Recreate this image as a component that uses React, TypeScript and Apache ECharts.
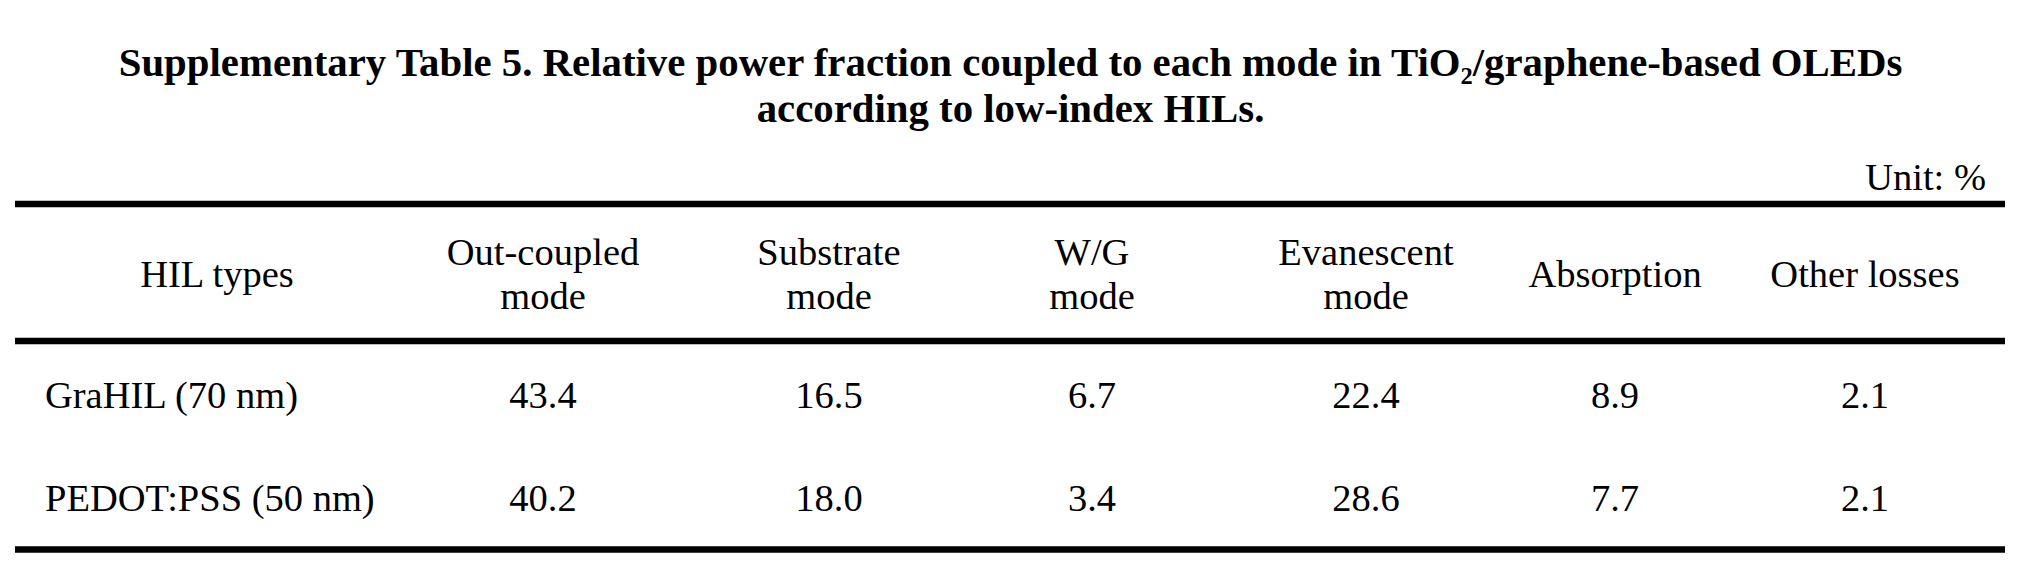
import React, { useEffect, useRef } from "react";
import * as echarts from "echarts";

const titleLines = [
  "Supplementary Table 5. Relative power fraction coupled to each mode in TiO₂/graphene-based OLEDs",
  "according to low-index HILs.",
];
const unitLabel = "Unit: %";
const headers: string[][] = [
  ["HIL types"],
  ["Out-coupled", "mode"],
  ["Substrate", "mode"],
  ["W/G", "mode"],
  ["Evanescent", "mode"],
  ["Absorption"],
  ["Other losses"],
];
const rowLabels = ["GraHIL (70 nm)", "PEDOT:PSS (50 nm)"];
const outCoupled = ["43.4", "40.2"];
const substrate = ["16.5", "18.0"];
const wgMode = ["6.7", "3.4"];
const evanescent = ["22.4", "28.6"];
const absorption = ["8.9", "7.7"];
const otherLosses = ["2.1", "2.1"];

// layout (positions only)
const W = 2021;
const H = 584;
const FONT = '"Liberation Serif", "Times New Roman", Times, serif';
const BODY = 38.5;
const TITLE = 40.8;
const colX = [217, 543, 829, 1092, 1366, 1615, 1865];
const rowLabelX = 45;
const rowY = [395, 498];
const ruleLeft = 15;
const ruleRight = 2005;
const rulesY = [204, 341, 549.5];
const headerLineY = [252, 296];
const headerSingleY = 274;
const titleY = [62, 108];

export default function App() {
  const ref = useRef<HTMLDivElement>(null);
  useEffect(() => {
    if (!ref.current) return;
    const chart = echarts.init(ref.current, null, { renderer: "svg", width: W, height: H });
    const columns = [outCoupled, substrate, wgMode, evanescent, absorption, otherLosses];
    const elements: any[] = [];
    const body = `${BODY}px ${FONT}`;

    titleLines.forEach((t, i) => {
      elements.push({
        type: "text",
        x: W / 2,
        y: titleY[i],
        style: {
          text: t,
          font: `bold ${TITLE}px ${FONT}`,
          fill: "#000",
          align: "center",
          verticalAlign: "middle",
        },
      });
    });

    elements.push({
      type: "text",
      x: 1986,
      y: 177,
      style: { text: unitLabel, font: body, fill: "#000", align: "right", verticalAlign: "middle" },
    });

    rulesY.forEach((y) => {
      elements.push({
        type: "rect",
        shape: { x: ruleLeft, y: y - 3.25, width: ruleRight - ruleLeft, height: 6.5 },
        style: { fill: "#000" },
      });
    });

    headers.forEach((lines, c) => {
      lines.forEach((line, li) => {
        elements.push({
          type: "text",
          x: colX[c],
          y: lines.length === 1 ? headerSingleY : headerLineY[li],
          style: { text: line, font: body, fill: "#000", align: "center", verticalAlign: "middle" },
        });
      });
    });

    rowLabels.forEach((label, r) => {
      elements.push({
        type: "text",
        x: rowLabelX,
        y: rowY[r],
        style: { text: label, font: body, fill: "#000", align: "left", verticalAlign: "middle" },
      });
      columns.forEach((col, c) => {
        elements.push({
          type: "text",
          x: colX[c + 1],
          y: rowY[r],
          style: { text: col[r], font: body, fill: "#000", align: "center", verticalAlign: "middle" },
        });
      });
    });

    chart.setOption({
      animation: false,
      backgroundColor: "#fff",
      graphic: { elements },
    });
    return () => chart.dispose();
  }, []);
  return (
    <div
      ref={ref}
      style={{ position: "fixed", left: 0, top: 0, width: W, height: H, background: "#fff" }}
    />
  );
}
